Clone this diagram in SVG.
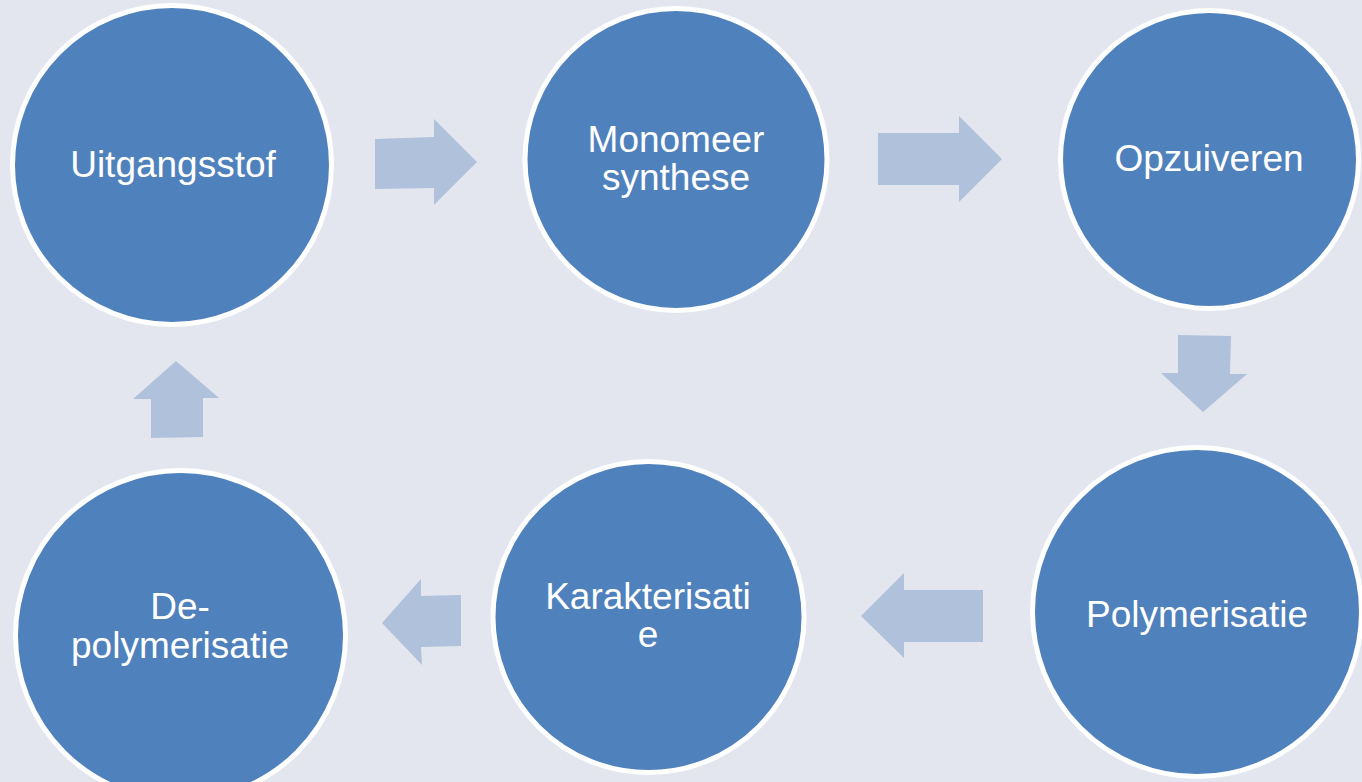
<svg xmlns="http://www.w3.org/2000/svg" width="1362" height="782" viewBox="0 0 1362 782">
  <style>
    .node { fill: #4F81BD; stroke: #FFFFFF; stroke-width: 5; }
    .lbl { fill: #FFFFFF; font-family: "Liberation Sans", Arial, sans-serif; font-size: 37px; text-anchor: middle; }
    .arrow { fill: #B0C1DC; stroke: none; }
  </style>
  <rect x="0" y="0" width="1362" height="782" fill="#E3E6EF"/>
  <g id="connectors">
    <polygon class="arrow" points="375,139 434,137 434,119 477,162 434,205 434,188 375,189"/>
    <polygon class="arrow" points="878,133 959,133 959,116 1002,159 959,202 959,185 878,185"/>
    <polygon class="arrow" points="1178,335 1231,336 1230,374 1247,374 1203,412 1161,373 1178,373"/>
    <polygon class="arrow" points="983,590 904,590 904,573 861,616 904,658 904,642 983,642"/>
    <polygon class="arrow" points="461,595 421,596 421,579 382,623 422,665 421,647 461,646"/>
    <polygon class="arrow" points="151,438 151,399 133,399 176,361 219,398 203,398 203,437"/>
  </g>
  <g id="node-uitgangsstof">
    <circle class="node" cx="172" cy="165" r="159.5"/>
    <text class="lbl" x="173" y="177">Uitgangsstof</text>
  </g>
  <g id="node-monomeer">
    <circle class="node" cx="676" cy="159.5" r="151"/>
    <text class="lbl" x="676" y="152">Monomeer</text>
    <text class="lbl" x="676" y="190">synthese</text>
  </g>
  <g id="node-opzuiveren">
    <circle class="node" cx="1209.5" cy="159.5" r="149"/>
    <text class="lbl" x="1209" y="171">Opzuiveren</text>
  </g>
  <g id="node-polymerisatie">
    <circle class="node" cx="1197" cy="612" r="164.5"/>
    <text class="lbl" x="1197" y="627">Polymerisatie</text>
  </g>
  <g id="node-karakterisatie">
    <circle class="node" cx="648.5" cy="617" r="155.5"/>
    <text class="lbl" x="648" y="609">Karakterisati</text>
    <text class="lbl" x="648" y="647">e</text>
  </g>
  <g id="node-depolymerisatie">
    <circle class="node" cx="180.5" cy="635.5" r="165"/>
    <text class="lbl" x="180" y="619">De-</text>
    <text class="lbl" x="180" y="658">polymerisatie</text>
  </g>
</svg>
